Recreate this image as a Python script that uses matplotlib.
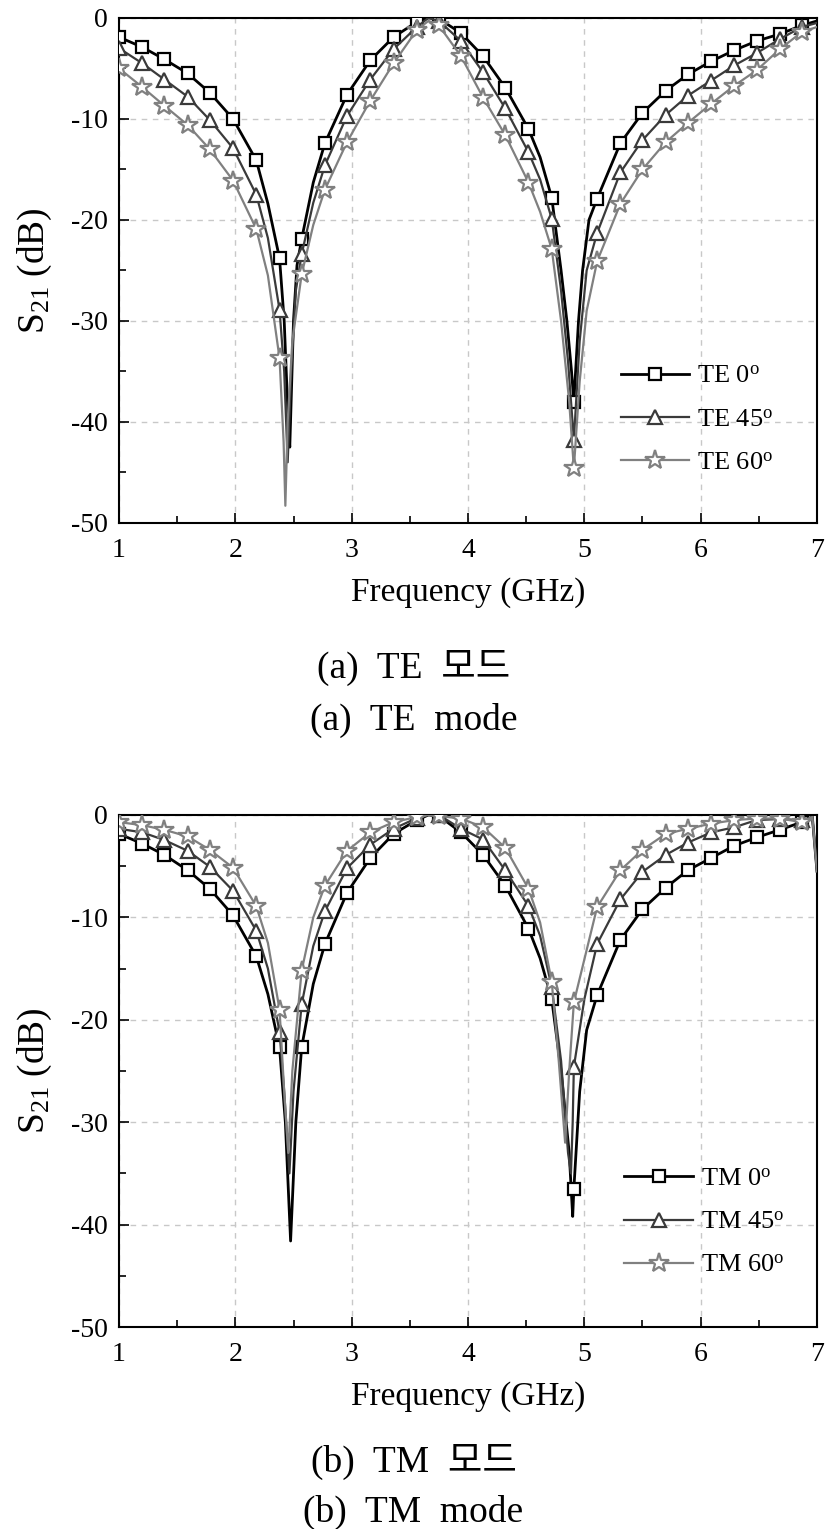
import numpy as np
import matplotlib
matplotlib.use("Agg")
import matplotlib.pyplot as plt
from matplotlib.ticker import MultipleLocator

plt.rcParams['font.family'] = ['Liberation Serif', 'Noto Sans CJK KR']
plt.rcParams['mathtext.fontset'] = 'custom'
plt.rcParams['mathtext.rm'] = 'Liberation Serif'
plt.rcParams['mathtext.it'] = 'Liberation Serif:italic'
plt.rcParams['axes.unicode_minus'] = False

# marker frequencies (GHz), shared by all six curves
mk_f = [1.00, 1.20, 1.39, 1.59, 1.78, 1.98, 2.18, 2.38, 2.57, 2.77, 2.96,
        3.16, 3.36, 3.56, 3.75, 3.94, 4.13, 4.32, 4.52, 4.72, 4.91, 5.11,
        5.31, 5.50, 5.70, 5.89, 6.09, 6.29, 6.48, 6.68, 6.87]

# ---- TE mode, S21 (dB) at the markers ----
te0 = [-1.9, -2.9, -4.1, -5.5, -7.4, -10.0, -14.1, -23.8, -21.9, -12.4, -7.6,
       -4.2, -1.9, -0.4, -0.1, -1.5, -3.8, -6.9, -11.0, -17.8, -38.0, -17.9,
       -12.4, -9.4, -7.2, -5.6, -4.3, -3.2, -2.3, -1.6, -0.75]
te45 = [-3.0, -4.5, -6.1, -7.8, -10.1, -12.9, -17.5, -28.9, -23.4, -14.6, -9.7,
        -6.1, -3.1, -0.9, -0.3, -2.3, -5.4, -8.95, -13.3, -19.9, -41.8, -21.3,
        -15.3, -12.1, -9.6, -7.7, -6.2, -4.7, -3.5, -2.1, -0.9]
te60 = [-5.0, -6.85, -8.7, -10.6, -13.0, -16.1, -20.9, -33.7, -25.4, -17.0, -12.3,
        -8.2, -4.5, -1.2, -0.75, -3.8, -7.9, -11.6, -16.3, -22.9, -44.6, -24.1,
        -18.4, -15.0, -12.3, -10.4, -8.5, -6.7, -5.2, -3.1, -1.4]

# extra curve points between markers (dips, peak, end)
te0_xf = [2.28, 2.42, 2.455, 2.468, 2.50, 2.53, 2.67, 3.66, 4.62, 4.80, 4.85, 4.89, 4.95, 4.985, 5.04, 7.0]
te0_xs = [-18.4, -30.0, -40.0, -42.5, -30.0, -24.5, -16.3, 0.0, -13.8, -25.0, -30.0, -35.0, -30.0, -25.0, -20.0, -0.3]
te45_xf = [2.28, 2.42, 2.45, 2.48, 2.52, 2.67, 3.66, 4.62, 4.80, 4.86, 4.96, 5.02, 7.0]
te45_xs = [-21.8, -35.0, -44.0, -35.0, -27.0, -18.3, 0.0, -16.0, -27.0, -34.0, -32.0, -25.0, -0.5]
te60_xf = [2.28, 2.415, 2.43, 2.45, 2.49, 2.67, 3.66, 4.62, 4.80, 4.87, 4.96, 5.02, 7.0]
te60_xs = [-25.5, -42.0, -48.3, -40.0, -32.0, -20.5, -0.3, -19.2, -30.0, -38.0, -36.0, -29.0, -0.9]

# ---- TM mode ----
tm0 = [-1.85, -2.8, -3.9, -5.4, -7.2, -9.8, -13.8, -22.7, -22.7, -12.6, -7.6,
       -4.2, -1.85, -0.5, -0.1, -1.7, -3.9, -6.9, -11.1, -18.0, -36.5, -17.6,
       -12.2, -9.2, -7.1, -5.4, -4.2, -3.0, -2.2, -1.45, -0.7]
tm45 = [-1.35, -1.7, -2.45, -3.5, -5.05, -7.4, -11.3, -21.2, -18.5, -9.4, -5.2,
        -2.9, -1.35, -0.3, 0.0, -1.35, -2.4, -5.4, -8.9, -16.8, -24.6, -12.6,
        -8.25, -5.55, -3.9, -2.7, -1.7, -1.2, -0.5, -0.4, -0.5]
tm60 = [-0.7, -1.0, -1.45, -2.1, -3.4, -5.15, -8.9, -19.0, -15.2, -6.9, -3.5,
        -1.7, -0.7, -0.2, -0.1, -0.35, -1.2, -3.2, -7.2, -16.3, -18.3, -9.0,
        -5.4, -3.4, -1.85, -1.35, -0.85, -0.5, -0.35, -0.35, -0.7]

tm0_xf = [2.28, 2.43, 2.475, 2.52, 2.67, 3.66, 4.62, 4.80, 4.87, 4.90, 4.96, 5.02, 6.96, 7.0]
tm0_xs = [-17.5, -30.0, -41.6, -30.0, -16.5, 0.0, -14.0, -25.0, -33.0, -39.2, -27.0, -21.0, -0.2, -5.5]
tm45_xf = [2.28, 2.42, 2.465, 2.50, 2.67, 3.66, 4.62, 4.80, 4.86, 4.885, 4.90, 5.00, 6.96, 7.0]
tm45_xs = [-15.0, -27.0, -35.0, -27.0, -12.8, 0.0, -11.8, -24.0, -33.0, -35.0, -30.0, -18.0, -0.2, -5.5]
tm60_xf = [2.28, 2.42, 2.455, 2.49, 2.67, 3.66, 4.62, 4.78, 4.835, 4.87, 6.96, 7.0]
tm60_xs = [-12.5, -27.0, -33.0, -25.0, -10.0, 0.0, -10.5, -24.0, -32.0, -25.0, -0.2, -5.5]


def curve(mk_y, extra_f, extra_s):
    x = np.array(mk_f + extra_f)
    y = np.array(mk_y + extra_s)
    is_mk = np.array([True] * len(mk_f) + [False] * len(extra_f))
    order = np.argsort(x, kind='stable')
    return x[order], y[order], list(np.where(is_mk[order])[0])


styles = [dict(color='black', marker='s', ms=8, lw=2.0),
          dict(color='#3a3a3a', marker='^', ms=10.5, lw=1.6),
          dict(color='#808080', marker='*', ms=15, lw=1.6)]

fig = plt.figure(figsize=(8.27, 15.29), dpi=100)
ax1 = fig.add_axes([0.1439, 0.6580, 0.8440, 0.3303])
ax2 = fig.add_axes([0.1439, 0.1321, 0.8440, 0.3349])

panels = [
    (ax1, [(te0, te0_xf, te0_xs), (te45, te45_xf, te45_xs), (te60, te60_xf, te60_xs)],
     ['TE 0$^{\\mathrm{o}}$', 'TE 45$^{\\mathrm{o}}$', 'TE 60$^{\\mathrm{o}}$'], 0.700),
    (ax2, [(tm0, tm0_xf, tm0_xs), (tm45, tm45_xf, tm45_xs), (tm60, tm60_xf, tm60_xs)],
     ['TM 0$^{\\mathrm{o}}$', 'TM 45$^{\\mathrm{o}}$', 'TM 60$^{\\mathrm{o}}$'], 0.705),
]

for ax, series, labels, leg_x in panels:
    handles = []
    for (mk_y, ef, es), st, lab in zip(series, styles, labels):
        x, y, idx = curve(mk_y, ef, es)
        h, = ax.plot(x, y, color=st['color'], lw=st['lw'], marker=st['marker'],
                     ms=st['ms'], mfc='white', mec=st['color'], mew=1.6,
                     markevery=idx, label=lab, zorder=3)
        handles.append(h)

    ax.set_xlim(1, 7)
    ax.set_ylim(-50, 0)
    ax.xaxis.set_major_locator(MultipleLocator(1))
    ax.xaxis.set_minor_locator(MultipleLocator(0.5))
    ax.yaxis.set_major_locator(MultipleLocator(10))
    ax.yaxis.set_minor_locator(MultipleLocator(5))
    ax.tick_params(which='both', direction='in', top=False, right=False, width=1.2)
    ax.tick_params(which='major', length=7, labelsize=20)
    ax.tick_params(which='minor', length=5)
    ax.tick_params(axis='x', which='major', pad=11)
    ax.tick_params(axis='y', which='major', pad=8)
    ax.grid(True, which='major', linestyle=(0, (4, 4)), color='#c8c8c8', lw=1.0)
    for sp in ax.spines.values():
        sp.set_linewidth(1.5)
    ax.set_xlabel('Frequency (GHz)', fontsize=24, labelpad=10)
    ax.set_ylabel('S$_{\\mathrm{21}}$ (dB)', fontsize=27, labelpad=12)
    ax.legend(handles=handles, loc='center left', bbox_to_anchor=(leg_x, 0.205),
              frameon=False, fontsize=19, numpoints=1, handlelength=2.6,
              handletextpad=0.3, labelspacing=0.75, borderpad=0)

cap = dict(ha='center', va='center', fontsize=27)
fig.text(0.5, 1 - 668 / 1529, '(a)  TE  모드', **cap)
fig.text(0.5, 1 - 720 / 1529, '(a)  TE  mode', **cap)
fig.text(0.5, 1 - 1462 / 1529, '(b)  TM  모드', **cap)
fig.text(0.5, 1 - 1512 / 1529, '(b)  TM  mode', **cap)

fig.savefig('out.png', dpi=100, facecolor='white')
